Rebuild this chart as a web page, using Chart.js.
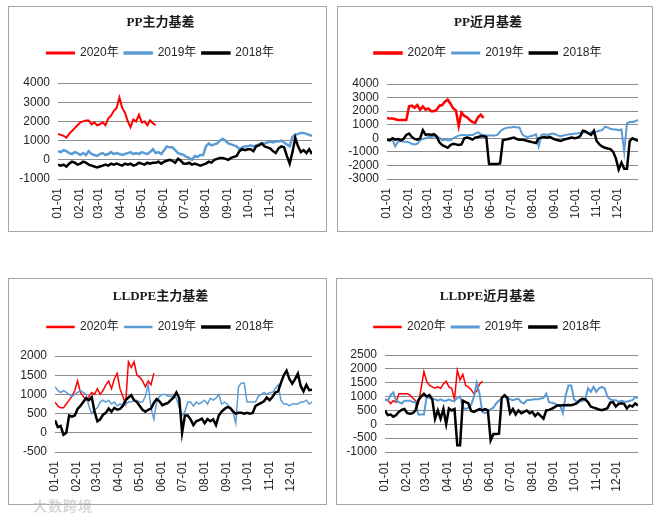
<!DOCTYPE html>
<html lang="zh-CN">
<head>
<meta charset="UTF-8">
<title>PP / LLDPE 基差</title>
<script src="https://cdn.jsdelivr.net/npm/chart.js@4"></script>
<style>
  body { margin: 0; background: #fff; width: 672px; height: 519px; position: relative; overflow: hidden; }
  .panel { position: absolute; border: 1px solid #a6a6a6; background: #fff; }
  .panel canvas { display: block; }
  .watermark { position: absolute; left: 33px; top: 495px; font: bold 14px "Noto Sans CJK SC", sans-serif; color: rgba(180,180,180,0.55); letter-spacing: 1px; }
</style>
</head>
<body>
  <div class="panel" style="left:8px;top:6px;width:317px;height:224px"><canvas id="c1" width="317" height="224"></canvas></div>
  <div class="panel" style="left:337px;top:6px;width:314px;height:224px"><canvas id="c2" width="314" height="224"></canvas></div>
  <div class="panel" style="left:8px;top:278px;width:317px;height:225px"><canvas id="c3" width="317" height="225"></canvas></div>
  <div class="panel" style="left:336px;top:278px;width:315px;height:225px"><canvas id="c4" width="315" height="225"></canvas></div>
  <div class="watermark">大数跨境</div>

<script>
// 日期（年内第几天），每4天一个点
const days = [1,5,9,13,17,21,25,29,33,37,41,45,49,53,57,61,65,69,73,77,81,85,89,93,97,101,105,109,113,117,121,125,129,133,137,141,
  145,149,153,157,161,165,169,173,177,181,185,189,193,197,201,205,209,213,217,221,225,229,233,237,241,245,249,253,257,261,265,269,
  273,277,281,285,289,293,297,301,305,309,313,317,321,325,329,333,337,341,345,349,353,357,361,365];

// x轴刻度：每月1日
const monthStartDays = [1, 32, 60, 91, 121, 152, 182, 213, 244, 274, 305, 335];
const monthLabels = ["01-01","02-01","03-01","04-01","05-01","06-01","07-01","08-01","09-01","10-01","11-01","12-01"];

const seriesNames = ["2020年", "2019年", "2018年"];

// PP主力基差
const ppMain2020 = [1350,1300,1250,1150,1350,1500,1650,1800,1950,2000,2050,2050,1850,1950,1800,1850,1950,1800,2150,2300,
  2550,2700,3250,2700,2450,2000,1700,2100,2000,2350,1950,2000,1800,2050,1900,1800];
const ppMain2019 = [450,400,500,450,350,300,400,350,250,350,250,450,300,250,200,300,350,250,300,400,300,350,300,250,300,350,
  400,300,350,300,400,350,300,400,550,350,400,300,500,700,650,650,500,350,300,250,150,100,0,200,150,250,250,700,850,750,800,
  850,1000,1100,1000,850,800,750,700,550,650,700,700,750,700,750,800,850,850,900,950,900,950,950,1000,900,800,700,1200,1300,
  1350,1400,1400,1350,1300,1250];
const ppMain2018 = [-250,-300,-250,-350,-200,-100,-150,-250,-200,-100,-150,-250,-300,-350,-400,-350,-300,-250,-300,-200,-250,
  -200,-250,-300,-200,-250,-200,-300,-250,-150,-200,-250,-150,-200,-150,-150,-100,-200,-100,-50,0,-50,-150,50,-50,-200,-200,
  -150,-250,-200,-250,-300,-250,-200,-100,-150,0,50,100,100,50,0,100,150,200,450,550,500,550,550,450,700,750,850,700,650,600,
  450,350,600,700,650,200,-200,400,1150,700,400,500,350,550,300];

// PP近月基差
const ppNear2020 = [1500,1450,1450,1400,1350,1350,1350,1350,2350,2400,2250,2450,2100,2350,2100,2200,2000,2000,2100,2400,
  2450,2700,2850,2550,2200,2050,900,1900,1650,1550,1350,1200,1150,1550,1750,1500];
const ppNear2019 = [-100,-150,-150,-600,-250,-200,-250,-250,-300,-400,-450,-400,-150,-50,0,100,100,150,100,50,-150,-100,-150,
  -150,0,100,200,250,250,200,250,250,350,450,300,250,200,200,200,200,250,500,650,750,800,800,850,800,800,300,150,100,150,200,
  300,-600,250,300,250,300,350,300,200,150,200,250,300,300,350,350,400,450,450,400,450,450,500,550,600,850,800,700,650,650,
  600,650,-1000,1100,1200,1200,1250,1350];
const ppNear2018 = [-100,-150,0,-100,-50,-150,-50,250,350,100,-50,-100,0,600,250,300,250,300,150,-300,-500,-600,-700,-500,
  -400,-450,-500,-450,0,50,0,-100,50,100,150,150,100,-1900,-1900,-1900,-1900,-1850,-150,-100,-50,0,50,-50,-100,-100,-150,-200,
  -250,-300,-350,0,50,100,50,100,0,-100,-150,-200,-100,-50,0,50,0,50,150,550,500,350,250,550,-200,-450,-600,-700,-750,-800,
  -1000,-1500,-2300,-1800,-2250,-2250,-200,0,-100,-200];

// LLDPE主力基差
const lldpeMain2020 = [800,700,650,650,750,850,950,1100,1350,1050,950,850,950,1050,1000,1150,1000,1100,1250,1350,1150,1400,
  1550,1150,950,750,1850,1700,1850,1500,1450,1350,1200,1350,1250,1550];
const lldpeMain2019 = [1200,1100,1050,1100,1050,1000,950,1000,1050,1100,1050,1000,700,500,600,650,800,850,800,850,750,800,700,
  750,700,750,800,800,850,850,800,800,950,1250,650,350,800,950,1000,1000,950,950,950,900,650,450,550,800,800,700,800,750,800,
  850,750,900,850,900,1000,750,800,750,650,550,250,1200,1300,1300,800,800,800,800,950,1000,1050,1000,1050,1050,1150,1250,850,
  750,750,700,750,750,750,800,800,850,750,800];
const lldpeMain2018 = [330,150,180,-50,0,450,420,450,620,700,800,900,850,930,550,300,350,470,520,630,550,650,600,620,700,850,
  920,980,850,800,700,600,550,600,630,780,880,820,720,750,780,850,920,1050,900,0,450,450,350,200,300,330,370,250,360,300,350,
  200,450,550,620,670,650,560,500,520,520,500,520,500,520,700,740,780,820,920,850,930,1050,1080,1300,1500,1620,1400,1280,1400,
  1540,1220,1080,1250,1110,1120];

// LLDPE近月基差
const lldpeNear2020 = [900,880,750,850,800,1100,1100,1100,1100,1050,950,850,750,1300,1900,1550,1400,1350,1300,1350,1300,1450,
  1550,1350,1300,900,1950,1600,1800,1400,1350,1250,1100,1200,1450,1550];
const lldpeNear2019 = [900,850,1050,1150,850,800,750,850,850,850,800,800,350,350,350,1000,950,900,900,850,900,850,850,900,850,
  850,950,1000,600,550,600,700,1000,1500,1100,450,400,450,550,600,750,850,950,1000,950,900,870,900,920,800,750,870,880,890,900,
  900,930,950,1100,800,780,750,700,690,400,1050,1400,1400,900,820,810,850,870,1300,1170,1350,1170,1300,1350,1300,1000,900,870,
  870,810,850,820,810,850,870,980,950];
const lldpeNear2018 = [500,330,350,270,330,450,520,550,400,380,400,500,870,1000,1100,1000,1050,900,200,500,200,550,0,570,500,
  550,-760,-760,850,800,750,480,450,500,550,500,550,500,-580,-350,-350,-340,950,1050,950,400,550,350,500,400,450,500,400,450,
  300,400,300,200,500,520,560,620,680,680,690,690,700,690,720,760,870,920,900,800,640,600,570,530,510,540,580,780,800,640,740,
  760,740,570,680,640,750,680];

const colors = ["#ff0000", "#5b9bd5", "#000000"];
const textColor = "#262626";
const gridColor = "#8c8c8c";

// 图例与图表之间多留一点空
function legendGap(extra) {
  return {
    id: "legendGap",
    beforeInit(chart) {
      const fit = chart.legend.fit;
      chart.legend.fit = function () {
        fit.call(this);
        this.height += extra;
      };
    }
  };
}

function buatChart(id, s) {
  const datasets = s.data.map((vals, i) => ({
    label: seriesNames[i],
    data: vals.map((v, j) => ({ x: days[j], y: v })),
    borderColor: colors[i],
    backgroundColor: colors[i],
    borderWidth: s.widths[i],
    pointRadius: 0,
    tension: 0,
    order: 3 - i
  }));

  new Chart(document.getElementById(id), {
    type: "line",
    data: { datasets },
    plugins: [legendGap(s.gap)],
    options: {
      responsive: false,
      animation: false,
      layout: { padding: { left: 0, right: 14, top: 0, bottom: 0 } },
      plugins: {
        title: {
          display: true,
          text: s.title,
          color: "#1a1a1a",
          font: { family: "'Liberation Serif', 'Noto Sans CJK SC'", size: 13, weight: "bold" },
          padding: { top: s.titleTop, bottom: 10.4 }
        },
        legend: {
          display: true,
          labels: {
            boxWidth: 27,
            boxHeight: 1,
            padding: 6,
            color: textColor,
            font: { family: "'Liberation Sans', 'Noto Sans CJK SC'", size: 12 },
            sort: (a, b) => a.datasetIndex - b.datasetIndex
          }
        },
        tooltip: { enabled: false }
      },
      scales: {
        x: {
          type: "linear",
          min: 1,
          max: 365,
          grid: { display: false, drawTicks: false },
          border: { display: false },
          afterBuildTicks: (scale) => { scale.ticks = monthStartDays.map(v => ({ value: v })); },
          afterFit: (scale) => { scale.height = 52; },
          ticks: {
            autoSkip: false,
            minRotation: 90,
            maxRotation: 90,
            padding: 9,
            color: textColor,
            font: { family: "'Liberation Sans'", size: 12 },
            callback: (v) => monthLabels[monthStartDays.indexOf(v)]
          }
        },
        y: {
          min: s.yMin,
          max: s.yMax,
          grid: { color: gridColor, lineWidth: 1, drawTicks: false },
          border: { display: false },
          afterFit: (scale) => { scale.width = s.yWidth; },
          ticks: {
            stepSize: s.step,
            autoSkip: false,
            padding: 8,
            color: textColor,
            font: { family: "'Liberation Sans'", size: 12 },
            callback: (v) => String(v)
          }
        }
      }
    }
  });
}

buatChart("c1", { title: "PP主力基差", data: [ppMain2020, ppMain2019, ppMain2018], widths: [2, 2.5, 2.5],
  yMin: -1000, yMax: 4000, step: 1000, yWidth: 49, titleTop: 8, gap: 14 });
buatChart("c2", { title: "PP近月基差", data: [ppNear2020, ppNear2019, ppNear2018], widths: [2.5, 2, 2.5],
  yMin: -3000, yMax: 4000, step: 1000, yWidth: 49, titleTop: 8, gap: 15 });
buatChart("c3", { title: "LLDPE主力基差", data: [lldpeMain2020, lldpeMain2019, lldpeMain2018], widths: [1.5, 1.5, 2.5],
  yMin: -500, yMax: 2000, step: 500, yWidth: 46, titleTop: 10, gap: 13 });
buatChart("c4", { title: "LLDPE近月基差", data: [lldpeNear2020, lldpeNear2019, lldpeNear2018], widths: [1.5, 2, 2.5],
  yMin: -1000, yMax: 2500, step: 500, yWidth: 48, titleTop: 10, gap: 12 });
</script>
</body>
</html>
